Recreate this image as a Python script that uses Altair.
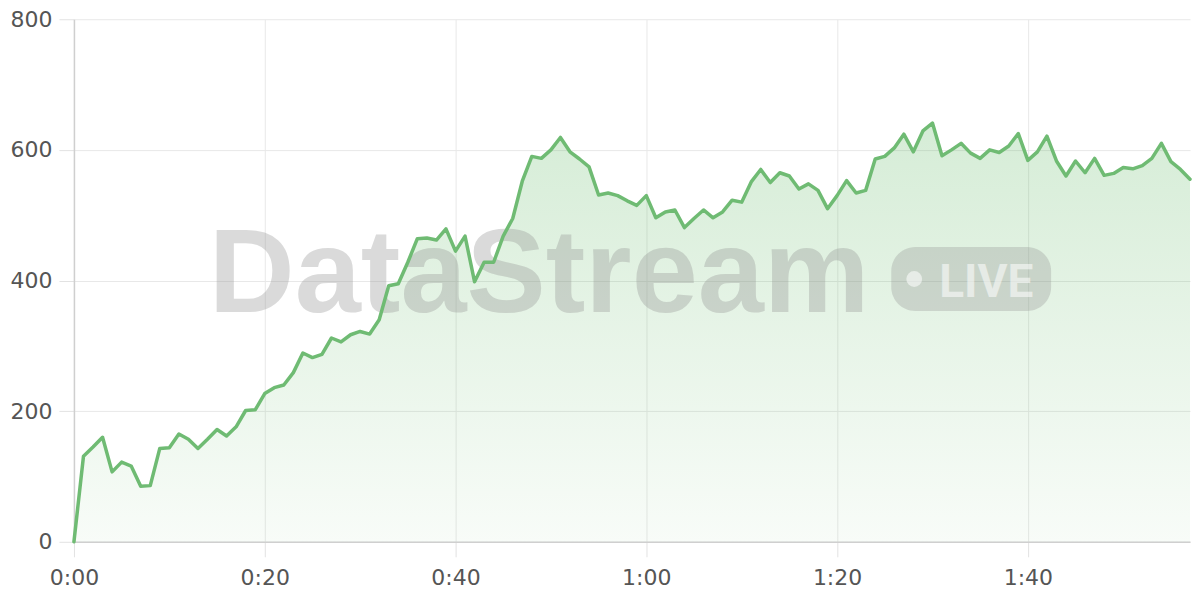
import altair as alt
import pandas as pd

# seconds since start
seconds = list(range(0, 118))
# values
values = [
    0, 131, 145, 160, 107, 122, 116, 85, 86, 143,
    144, 165, 157, 143, 157, 172, 162, 176, 201, 202,
    227, 236, 240, 259, 289, 282, 287, 312, 306, 317,
    322, 318, 340, 392, 395, 428, 464, 465, 462, 479,
    445, 468, 398, 428, 428, 468, 495, 552, 590, 587,
    600, 619, 597, 586, 574, 531, 534, 530, 522, 515,
    530, 496, 505, 508, 481, 495, 508, 496, 505, 523,
    520, 551, 570, 550, 565, 560, 540, 548, 538, 510,
    530, 553, 534, 538, 586, 590, 603, 624, 597, 629,
    641, 591, 600, 610, 595, 587, 600, 596, 606, 625,
    584, 597, 621, 583, 560, 583, 565, 587, 561, 564,
    573, 571, 576, 587, 610, 582, 570, 555,
]
x_ticks = [0, 20, 40, 60, 80, 100]
y_ticks = [0, 200, 400, 600, 800]
watermark_text = ["DataStream"]
badge_text = ["LIVE"]

df = pd.DataFrame({"t": seconds, "v": values})

LABEL_FONT = "DejaVu Sans"

x_enc = alt.X(
    "t:Q",
    scale=alt.Scale(domain=[0, 117], nice=False, zero=False),
    axis=alt.Axis(
        values=x_ticks,
        labelExpr="floor(datum.value/60) + ':' + (datum.value % 60 < 10 ? '0' : '') + (datum.value % 60)",
        title=None,
        grid=True,
        gridColor="#e8e8e8",
        domainColor="#cfcfcf",
        domainWidth=1.5,
        tickColor="#e2e2e2",
        tickSize=15,
        labelPadding=11,
        labelFlush=False,
        labelFont=LABEL_FONT,
        labelFontSize=22,
        labelColor="#555555",
    ),
)
y_enc = alt.Y(
    "v:Q",
    scale=alt.Scale(domain=[0, 800], nice=False),
    axis=alt.Axis(
        values=y_ticks,
        title=None,
        grid=True,
        gridColor="#e8e8e8",
        domainColor="#cfcfcf",
        domainWidth=1.5,
        tickColor="#e2e2e2",
        tickSize=15,
        labelPadding=7,
        labelFlush=False,
        labelFont=LABEL_FONT,
        labelFontSize=22,
        labelColor="#555555",
    ),
)

area = alt.Chart(df).mark_area(
    color=alt.Gradient(
        gradient="linear",
        stops=[
            alt.GradientStop(color="rgba(76,175,80,0.23)", offset=0),
            alt.GradientStop(color="rgba(76,175,80,0.04)", offset=1),
        ],
        x1=1, x2=1, y1=0, y2=1,
    ),
    line=False,
).encode(x=x_enc, y=y_enc)

wm_df = pd.DataFrame({"label": watermark_text})
watermark = alt.Chart(wm_df).mark_text(
    font="Liberation Sans",
    fontWeight="bold",
    fontSize=119,
    align="left",
    baseline="alphabetic",
    color="#8f8f8f",
    opacity=0.32,
).encode(x=alt.value(135), y=alt.value(293), text="label:N")

badge_df = pd.DataFrame({"label": badge_text})
badge = alt.Chart(badge_df).mark_rect(
    color="#8f8f8f", opacity=0.3, cornerRadius=24
).encode(x=alt.value(818), x2=alt.value(978), y=alt.value(228), y2=alt.value(292))

dot = alt.Chart(badge_df).mark_circle(
    color="#ffffff", opacity=0.55, size=250
).encode(x=alt.value(841), y=alt.value(260))

live = alt.Chart(badge_df).mark_text(
    font="Roboto",
    fontWeight="bold",
    fontSize=46,
    align="left",
    baseline="alphabetic",
    color="#ffffff",
    opacity=0.55,
).encode(x=alt.value(866), y=alt.value(278), text="label:N")

line = alt.Chart(df).mark_line(
    color="#6fbb73", strokeWidth=3.5, strokeJoin="round", strokeCap="round"
).encode(x=x_enc, y=y_enc)

chart = alt.layer(area, watermark, badge, dot, live, line).properties(
    width=1117,
    height=523,
    padding={"left": 2, "top": 0, "right": 0, "bottom": 0},
).configure_view(stroke=None)

chart.save("out.html", embed_options={"renderer": "svg", "actions": False})
